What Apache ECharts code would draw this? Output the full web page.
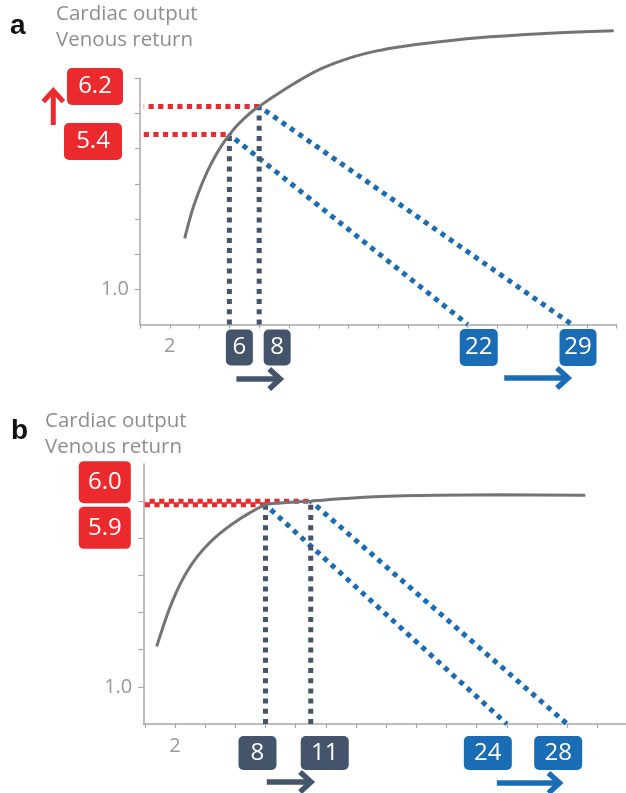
<!DOCTYPE html>
<html>
<head>
<meta charset="utf-8">
<script src="https://cdn.jsdelivr.net/npm/echarts@6/dist/echarts.min.js"></script>
<style>
  html, body { margin: 0; padding: 0; background: #fff; }
  #chart { width: 626px; height: 793px; }
</style>
</head>
<body>
<div id="chart"></div>
<script>
// ---- Panel a: cardiac output curve, [right atrial pressure, output] ----
const curveA = [[3.0, 2.45], [3.5, 3.23], [4.0, 3.83], [4.5, 4.33], [5.0, 4.75], [5.5, 5.1], [6.0, 5.4],
  [6.5, 5.65], [7.0, 5.86], [7.5, 6.05], [8.0, 6.2], [9.0, 6.49], [10.3, 6.84], [12.1, 7.26], [14.1, 7.58],
  [15.9, 7.78], [17.5, 7.9], [20.1, 8.04], [23.5, 8.18], [26.9, 8.27], [30.2, 8.33], [31.8, 8.35]];
// equilibrium points and the filling pressures where venous return falls to zero
const rapA = [6, 8];
const outputA = [5.4, 6.2];
const fillA = [22, 29];

// ---- Panel b ----
const curveB = [[0.79, 2.09], [1.34, 2.775], [1.8, 3.273], [2.3, 3.73], [2.8, 4.104], [3.4, 4.465],
  [4.1, 4.799], [4.9, 5.105], [5.8, 5.386], [6.9, 5.671], [8.0, 5.9], [9.0, 5.95], [10.0, 5.98], [11.0, 6.0],
  [13.2, 6.07], [15.2, 6.12], [19.3, 6.16], [23.7, 6.17], [29.2, 6.16]];
const rapB = [8, 11];
const outputB = [5.9, 6.0];
const fillB = [24, 28];

// axis ticks and tick labels
const xTicksA = [0, 2, 4, 6, 8, 10, 12, 14, 16, 18, 20, 22, 24, 26, 28, 30, 32];
const yTicksA = [1, 2, 3, 4, 5, 6, 7];
const xTicksB = [0, 2, 4, 6, 8, 10, 12, 14, 16, 18, 20, 22, 24, 26, 28, 30];
const yTicksB = [1, 2, 3, 4, 5, 6];
const xLabelVals = [2];
const yLabelVals = [1];
const axisTitle = 'Cardiac output\nVenous return';

const RED = '#eb2a2e', SLATE = '#44546a', BLUE = '#1a6cb5', CURVE = '#747474', GREY = '#9a9a9a';
const FONT = '"Open Sans", "Noto Sans", sans-serif';

function xAxis(grid, min, max, ticks) {
  return {
    type: 'value', gridIndex: grid, min: min, max: max,
    axisLine: { onZero: false, lineStyle: { color: '#a8a8a8', width: 1.5 } },
    axisTick: { show: true, length: 4, customValues: ticks, lineStyle: { color: '#a8a8a8', width: 1.2 } },
    axisLabel: { customValues: xLabelVals, color: GREY, fontSize: 20, fontFamily: FONT, margin: 12 },
    splitLine: { show: false }
  };
}
function yAxis(grid, ticks) {
  return {
    type: 'value', gridIndex: grid, min: 0, max: 7,
    axisLine: { show: true, onZero: false, lineStyle: { color: '#a8a8a8', width: 1.5 } },
    axisTick: { show: true, length: 5, customValues: ticks, lineStyle: { color: '#a8a8a8', width: 1.2 } },
    axisLabel: { customValues: yLabelVals, formatter: v => v.toFixed(1), color: GREY, fontSize: 20, fontFamily: FONT, margin: 11 },
    splitLine: { show: false }
  };
}

function seg(idx, data, color, dash, offset) {
  return {
    type: 'line', xAxisIndex: idx, yAxisIndex: idx, data: data, symbol: 'none', silent: true,
    clip: false, z: 2,
    lineStyle: { color: color, width: 5, type: dash, dashOffset: offset || 0, cap: 'butt', opacity: 1 }
  };
}

function panelSeries(idx, curve, rap, out, fill, redStart) {
  const s = [];
  for (let i = 0; i < rap.length; i++) {
    s.push(seg(idx, [[redStart, out[i]], [rap[i], out[i]]], RED, [5.2, 4.4], i * 4.8));
    s.push(seg(idx, [[rap[i], 0], [rap[i], out[i]]], SLATE, [5, 5.2], 0));
    s.push(seg(idx, [[rap[i], out[i]], [fill[i], 0]], BLUE, [5, 5.2], 3));
  }
  s.push({
    type: 'line', xAxisIndex: idx, yAxisIndex: idx, data: curve, symbol: 'none', silent: true,
    smooth: 0.35, clip: false, z: 5, lineStyle: { color: CURVE, width: 3 }
  });
  return s;
}

function boxLabel(text, color, w, h, dx, dy) {
  return {
    show: true, position: 'inside', formatter: text, offset: [dx, dy], opacity: 1,
    backgroundColor: color, borderRadius: 5, width: w, height: h, lineHeight: h,
    color: '#fff', fontSize: 24, fontFamily: FONT, align: 'center', verticalAlign: 'middle'
  };
}
function labelSeries(idx, items) {
  return {
    type: 'scatter', xAxisIndex: idx, yAxisIndex: idx, symbolSize: 1, silent: true, z: 10,
    itemStyle: { color: 'rgba(255,255,255,0)', opacity: 1 },
    data: items.map(it => ({ value: it.at, label: it.label }))
  };
}

const labelsA = labelSeries(0, [
  { at: [0, outputA[1]], label: boxLabel(outputA[1].toFixed(1), RED, 56, 37, -45, -20) },
  { at: [0, outputA[0]], label: boxLabel(outputA[0].toFixed(1), RED, 58, 37, -47, 7) },
  { at: [rapA[0], 0], label: boxLabel(String(rapA[0]), SLATE, 27, 36, 10, 23) },
  { at: [rapA[1], 0], label: boxLabel(String(rapA[1]), SLATE, 27, 36, 18, 23) },
  { at: [fillA[0], 0], label: boxLabel(String(fillA[0]), BLUE, 38, 37, 11, 23) },
  { at: [fillA[1], 0], label: boxLabel(String(fillA[1]), BLUE, 37, 37, 6, 23) }
]);
const labelsB = labelSeries(1, [
  { at: [0, outputB[1]], label: boxLabel(outputB[1].toFixed(1), RED, 52, 42, -40, -19) },
  { at: [0, outputB[0]], label: boxLabel(outputB[0].toFixed(1), RED, 52, 42, -40, 23) },
  { at: [rapB[0], 0], label: boxLabel(String(rapB[0]), SLATE, 38, 34, -8, 29) },
  { at: [rapB[1], 0], label: boxLabel(String(rapB[1]), SLATE, 48, 34, 14, 29) },
  { at: [fillB[0], 0], label: boxLabel(String(fillB[0]), BLUE, 48, 34, -19, 29) },
  { at: [fillB[1], 0], label: boxLabel(String(fillB[1]), BLUE, 48, 34, -9, 29) }
]);

function text(x, y, str, size, color, weight, family) {
  return {
    type: 'text', silent: true, z: 20,
    style: { x: x, y: y, text: str, fontSize: size, fill: color, fontWeight: weight || 'normal',
      fontFamily: family || FONT, align: 'left', verticalAlign: 'middle', lineHeight: 26.6 }
  };
}

const chart = echarts.init(document.getElementById('chart'), null, { renderer: 'canvas' });
chart.setOption({
  animation: false,
  backgroundColor: '#fff',
  grid: [
    { left: 140, right: 9.3, top: 78.3, height: 246.2 },
    { left: 143.3, right: 0, top: 464, height: 260 }
  ],
  xAxis: [xAxis(0, 0, 32, xTicksA), xAxis(1, -0.1, 31.9, xTicksB)],
  yAxis: [yAxis(0, yTicksA), yAxis(1, yTicksB)],
  series: [
    ...panelSeries(0, curveA, rapA, outputA, fillA, 0.25),
    ...panelSeries(1, curveB, rapB, outputB, fillB, 0),
    labelsA, labelsB
  ]
});

// shift arrows under the boxes, placed from the axis scales
const px = (g, v) => chart.convertToPixel({ xAxisIndex: g }, v);
const py = (g, v) => chart.convertToPixel({ yAxisIndex: g }, v);

function hArrow(x1, tip, y, color) {
  return [
    { type: 'line', silent: true, z: 20, shape: { x1: x1, y1: y, x2: tip - 5, y2: y },
      style: { stroke: color, lineWidth: 5.5 } },
    { type: 'polyline', silent: true, z: 20,
      shape: { points: [[tip - 15, y - 10], [tip - 4, y], [tip - 15, y + 10]] },
      style: { stroke: color, lineWidth: 5.5, fill: null, lineJoin: 'miter' } }
  ];
}
function vArrow(x, y1, tip, color) {
  return [
    { type: 'line', silent: true, z: 20, shape: { x1: x, y1: y1, x2: x, y2: tip + 5 },
      style: { stroke: color, lineWidth: 5 } },
    { type: 'polyline', silent: true, z: 20,
      shape: { points: [[x - 10, tip + 15], [x, tip + 4], [x + 10, tip + 15]] },
      style: { stroke: color, lineWidth: 5, fill: null, lineJoin: 'miter' } }
  ];
}

const graphics = [
  text(10, 26, 'a', 28, '#111', 'bold', '"Liberation Sans", Arial, sans-serif'),
  text(56, 27, axisTitle, 20.5, '#8e8e8e'),
  text(11, 431, 'b', 28, '#111', 'bold', '"Liberation Sans", Arial, sans-serif'),
  text(45, 434, axisTitle, 20.5, '#8e8e8e'),
  ...hArrow(px(0, rapA[0]) + 7, px(0, rapA[1]) + 25, 379, SLATE),
  ...hArrow(px(0, fillA[0]) + 36.5, px(0, fillA[1]), 378, BLUE),
  ...hArrow(px(1, rapB[0]) + 1.3, px(1, rapB[1]) + 4.3, 782, SLATE),
  ...hArrow(px(1, fillB[0]) - 10, px(1, fillB[1]) - 3.7, 783, BLUE),
  ...vArrow(53.3, py(0, outputA[0]) - 9.6, py(0, outputA[1]) - 19.8, RED)
];
chart.setOption({ graphic: graphics });
</script>
</body>
</html>
